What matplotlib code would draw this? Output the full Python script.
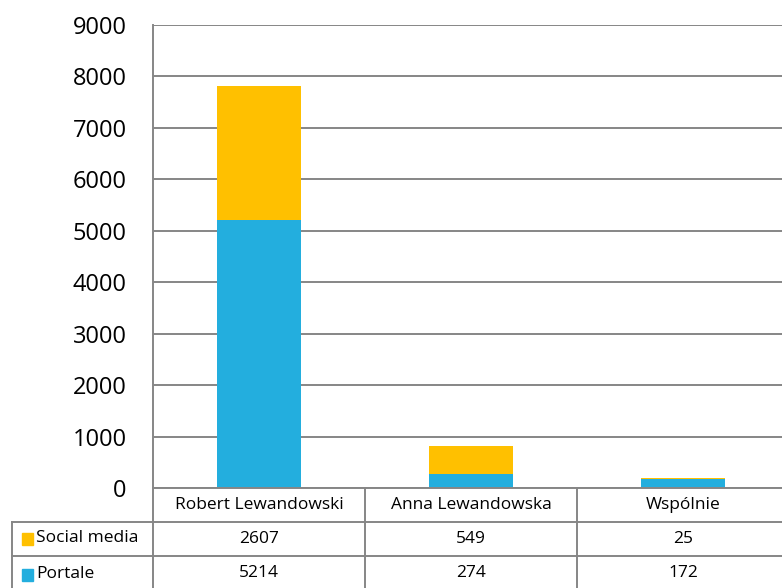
import matplotlib.pyplot as plt

categories = ['Robert Lewandowski', 'Anna Lewandowska', 'Wspólnie']
social_media = [2607, 549, 25]
portale = [5214, 274, 172]
yticks = [0, 1000, 2000, 3000, 4000, 5000, 6000, 7000, 8000, 9000]

W, H = 782, 588
c_social = '#FFC000'
c_portale = '#23AEDE'
c_grid = '#868686'
font = ['Open Sans', 'DejaVu Sans']

fig = plt.figure(figsize=(W / 100, H / 100), dpi=100)

# plot area in pixels (right edge runs past the picture, as in the source)
x0, x1 = 153, 789
y_top, y_zero = 25, 488
ax = fig.add_axes([x0 / W, (H - y_zero) / H, (x1 - x0) / W, (y_zero - y_top) / H])

pos = range(len(categories))
ax.bar(pos, portale, width=0.4, color=c_portale, label='Portale')
ax.bar(pos, social_media, width=0.4, bottom=portale, color=c_social, label='Social media')

ax.set_xlim(-0.5, len(categories) - 0.5)
ax.set_ylim(0, 9000)
ax.set_yticks(yticks)
ax.set_yticklabels([str(t) for t in yticks], fontsize=17, family=font)
ax.tick_params(axis='y', length=0, pad=19)
ax.set_xticks([])
ax.grid(axis='y', color=c_grid, linewidth=1.4)
ax.set_axisbelow(True)
for side in ['top', 'right', 'bottom']:
    ax.spines[side].set_visible(False)
ax.spines['left'].set_color(c_grid)
ax.spines['left'].set_linewidth(1.4)


def fx(px):
    return px / W


def fy(py):
    return 1 - py / H


def hline(xa, xb, y):
    fig.add_artist(plt.Line2D([fx(xa), fx(xb)], [fy(y), fy(y)], color=c_grid, lw=1.4))


def vline(x, ya, yb):
    fig.add_artist(plt.Line2D([fx(x), fx(x)], [fy(ya), fy(yb)], color=c_grid, lw=1.4))


# data table below the axis
cw = (x1 - x0) / len(categories)
col_edges = [x0 + i * cw for i in range(len(categories) + 1)]
hline(x0, W, 488)
hline(12, W, 522)
hline(12, W, 556)
vline(12, 522, 588)
for cx in col_edges[:-1]:
    vline(cx, 488, 588)

for i, cat in enumerate(categories):
    cx = (col_edges[i] + col_edges[i + 1]) / 2
    fig.text(fx(cx), fy(505), cat, ha='center', va='center', fontsize=12.5, family=font)
    fig.text(fx(cx), fy(539), str(social_media[i]), ha='center', va='center', fontsize=12.5, family=font)
    fig.text(fx(cx), fy(573), str(portale[i]), ha='center', va='center', fontsize=12.5, family=font)

for label, color, yc in [('Social media', c_social, 539), ('Portale', c_portale, 575)]:
    fig.add_artist(plt.Rectangle((fx(22), fy(yc + 6)), 11 / W, 12 / H, color=color))
    fig.text(fx(36), fy(yc - 1), label, ha='left', va='center', fontsize=12.5, family=font)

fig.savefig('out.png', dpi=100)
